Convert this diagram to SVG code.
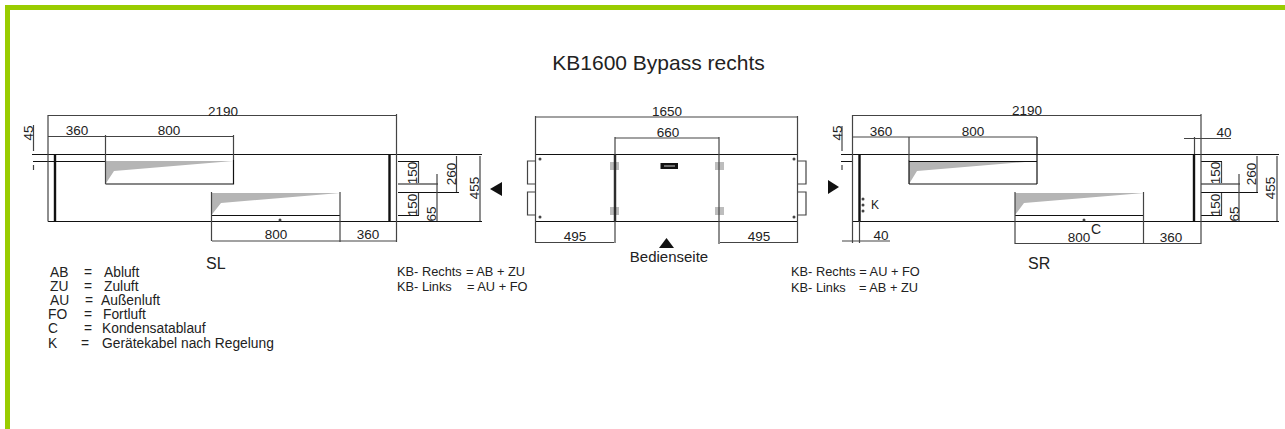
<svg xmlns="http://www.w3.org/2000/svg" width="1285" height="429" viewBox="0 0 1285 429">
<style>
text{font-family:"Liberation Sans",Arial,sans-serif;fill:#222}
.l{font-size:13.800px}.n{font-size:12.800px}.v{font-size:13.500px;text-anchor:middle}
.t{fill:none;stroke:#111;stroke-width:1.2}
.m{fill:none;stroke:#444;stroke-width:1.2}
.k{fill:none;stroke:#111;stroke-width:2.400}
.g{fill:#b5b5b5}.s{fill:#bdbdbd}.a{fill:#111}.p{fill:#444}
</style>
<rect width="1285" height="429" fill="#fff"/>
<path d="M5 429V5H1285V10H10V429Z" fill="#99cc00"/>
<text x="658.500" y="70" font-size="21" text-anchor="middle">KB1600 Bypass rechts</text>

<g id="view-sl">
<path class="g" d="M105.500 161H233L114 171L105.500 184Z"/>
<path class="g" d="M211.500 193H340L221 203L211.500 215Z"/>
<path class="t" d="M32 154.500H482M48 221.500H482M33 161.500H105.500M105.500 184H233.500V160M211.500 215.500H340M398 161.500H419M398 215.500H419M398 184H438M398 192.500H459"/>
<path class="k" d="M55 154.500V221.500M389.500 154.500V221.500"/>
<path class="m" d="M48 115V221.500M396.500 114V242M48 115.500H396M48 136.500H233.500M105.500 135V184M233.500 135V160M211.500 192V241M340 192V242M212 241H396M33.500 125V151M33.500 165V170M418.500 162V183M418.500 193V215M437 174V221M456.500 156V192M480 156V221"/>
<circle class="p" cx="280" cy="220" r="1.500"/>
<path class="a" d="M490 189L502 182V196Z"/>
<text class="v" x="223" y="116">2190</text>
<text class="v" x="77" y="135">360</text>
<text class="v" x="169" y="135">800</text>
<text class="v" x="276" y="239">800</text>
<text class="v" x="368" y="239">360</text>
<text class="v" transform="translate(33 133) rotate(-90)">45</text>
<text class="v" transform="translate(417 173) rotate(-90)">150</text>
<text class="v" transform="translate(417 205) rotate(-90)">150</text>
<text class="v" transform="translate(436 214) rotate(-90)">65</text>
<text class="v" transform="translate(456 174) rotate(-90)">260</text>
<text class="v" transform="translate(479 188) rotate(-90)">455</text>
<text x="206" y="269" font-size="16">SL</text>
</g>

<g id="view-front">
<path class="s" d="M610 162h9v8h-9zM610 207h9v8h-9zM715 162h9v8h-9zM715 207h9v8h-9z"/>
<path class="t" d="M535.500 154.500H797.500M535.500 221.500H797.500"/>
<path class="k" d="M615 154.500V221.500"/>
<path class="m" d="M535.500 116V243M797.500 116V243M535.500 117H797.500M615 137V243M719 137V244M615 138H719M535.500 242.500H614M720 242.500H798M535.500 161H527.500V184H535.500M535.500 192H527.500V215H535.500M798 161H806V184H798M798 192H806V215H798"/>
<rect class="a" x="660.500" y="163" width="17.500" height="6"/>
<path d="M664 166h11" stroke="#ccc" stroke-width="1"/>
<circle class="p" cx="540" cy="159" r="1.500"/><circle class="p" cx="540" cy="217" r="1.500"/><circle class="p" cx="794" cy="159" r="1.500"/><circle class="p" cx="794" cy="217" r="1.500"/>
<path class="a" d="M659 248L666.500 238L674 248Z"/>
<text class="v" x="667" y="116">1650</text>
<text class="v" x="668" y="137">660</text>
<text class="v" x="575" y="241">495</text>
<text class="v" x="759" y="241">495</text>
<text x="669" y="262" font-size="15" text-anchor="middle">Bedienseite</text>
</g>

<g id="view-sr">
<path class="g" d="M909 161H1037L917 171L909 184Z"/>
<path class="g" d="M1015 193H1144L1024 203L1015 215Z"/>
<path class="t" d="M841 154.500H1279M852.500 221.500H1279M841 161.500H852M909 161.500H1037M909 184H1037M909 160V184M1037 137V184M1015 215.500H1144M1201 161.500H1222M1201 215.500H1222M1201 184H1240M1201 192.500H1258"/>
<path class="k" d="M859.500 154.500V221.500M1194 154.500V221.500"/>
<path class="m" d="M852.500 115V243M1201 114V244M852.500 115.500H1201M853 137H1037M909 137V160M1015 192V244M1143.500 192V244M1015 243.500H1201M842 126V151M842 165V170M842 241H890M859.500 221V243M1194.500 137V154M1184 138.500H1231M1221.500 162V183M1221.500 193V215M1239 174V221M1257 156V192M1277 156V221"/>
<circle class="p" cx="1084" cy="220" r="1.500"/>
<circle class="p" cx="863" cy="199" r="1.500"/><circle class="p" cx="863" cy="205" r="1.500"/><circle class="p" cx="863" cy="211" r="1.500"/>
<path class="a" d="M839 187L828 180V194Z"/>
<text class="v" x="1027" y="115">2190</text>
<text class="v" x="881" y="136">360</text>
<text class="v" x="973" y="136">800</text>
<text class="v" x="1079" y="242">800</text>
<text class="v" x="1171" y="242">360</text>
<text class="v" x="1224" y="137">40</text>
<text class="v" x="881" y="240">40</text>
<text class="v" transform="translate(842 133) rotate(-90)">45</text>
<text class="v" transform="translate(1220 173) rotate(-90)">150</text>
<text class="v" transform="translate(1220 205) rotate(-90)">150</text>
<text class="v" transform="translate(1239 214) rotate(-90)">65</text>
<text class="v" transform="translate(1256 174) rotate(-90)">260</text>
<text class="v" transform="translate(1275 188) rotate(-90)">455</text>
<text x="871" y="209" font-size="12">K</text>
<text x="1091" y="234" font-size="14">C</text>
<text x="1028" y="269" font-size="16">SR</text>
</g>

<g id="legend">
<text class="l" x="50" y="277">AB</text><text class="l" x="84" y="277">=</text><text class="l" x="104" y="277">Abluft</text>
<text class="l" x="50" y="291">ZU</text><text class="l" x="84" y="291">=</text><text class="l" x="104" y="291">Zuluft</text>
<text class="l" x="50" y="305">AU</text><text class="l" x="85" y="305">=</text><text class="l" x="101" y="305">Außenluft</text>
<text class="l" x="48" y="319">FO</text><text class="l" x="84" y="319">=</text><text class="l" x="103" y="319">Fortluft</text>
<text class="l" x="48" y="333">C</text><text class="l" x="84" y="333">=</text><text class="l" x="102" y="333">Kondensatablauf</text>
<text class="l" x="48" y="348">K</text><text class="l" x="81" y="348">=</text><text class="l" x="102" y="348">Gerätekabel nach Regelung</text>
<text class="n" x="397" y="276">KB- Rechts</text><text class="n" x="466" y="276">= AB + ZU</text>
<text class="n" x="397" y="291">KB- Links</text><text class="n" x="467" y="291">= AU + FO</text>
<text class="n" x="791" y="276">KB- Rechts = AU + FO</text>
<text class="n" x="791" y="292">KB- Links</text><text class="n" x="859" y="292">= AB + ZU</text>
</g>
</svg>
